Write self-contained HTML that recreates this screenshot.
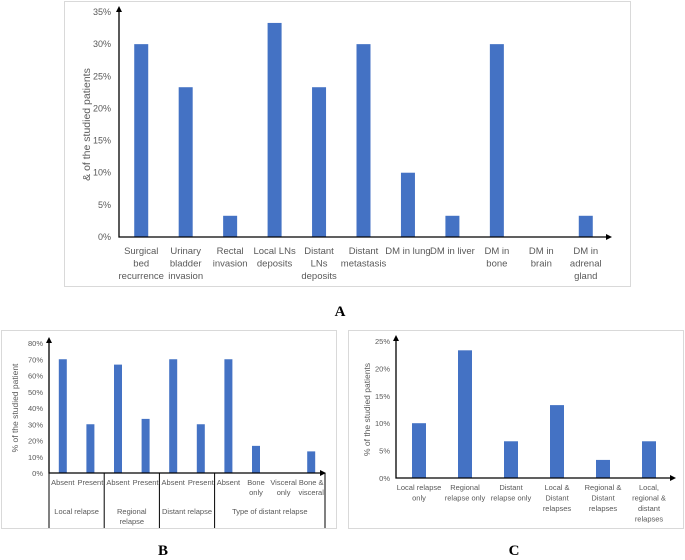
<!DOCTYPE html>
<html><head><meta charset="utf-8">
<style>
body{margin:0;background:#fff;width:685px;height:560px;overflow:hidden;font-family:"Liberation Sans",sans-serif;}
svg{position:absolute;left:0;top:0}
</style></head>
<body>
<svg id="s" width="685" height="560" xmlns="http://www.w3.org/2000/svg">
<rect x="64.5" y="1.5" width="566" height="285" fill="none" stroke="#d9d9d9"/>
<rect x="1.5" y="330.5" width="335" height="198" fill="none" stroke="#d9d9d9"/>
<rect x="348.5" y="330.5" width="335" height="198" fill="none" stroke="#d9d9d9"/>
<text x="340" y="316" text-anchor="middle" font-family="Liberation Serif" font-weight="bold" font-size="15">A</text>
<text x="163" y="555" text-anchor="middle" font-family="Liberation Serif" font-weight="bold" font-size="15">B</text>
<text x="514" y="555" text-anchor="middle" font-family="Liberation Serif" font-weight="bold" font-size="15">C</text>
</svg>
<script>
const aCats=[["Surgical","bed","recurrence"],["Urinary","bladder","invasion"],["Rectal","invasion"],["Local LNs","deposits"],["Distant","LNs","deposits"],["Distant","metastasis"],["DM in lung"],["DM in liver"],["DM in","bone"],["DM in","brain"],["DM in","adrenal","gland"]];
const aVals=[30,23.3,3.3,33.3,23.3,30,10,3.3,30,0,3.3];
const aTicks=[0,5,10,15,20,25,30,35];
const bCats=[["Absent"],["Present"],["Absent"],["Present"],["Absent"],["Present"],["Absent"],["Bone","only"],["Visceral","only"],["Bone &","visceral"]];
const bVals=[70,30,66.7,33.3,70,30,70,16.7,0,13.3];
const bTicks=[0,10,20,30,40,50,60,70,80];
const bGroups=[["Local relapse"],["Regional","relapse"],["Distant relapse"],["Type of distant relapse"]];
const bGroupSizes=[2,2,2,4];
const cCats=[["Local relapse","only"],["Regional","relapse only"],["Distant","relapse only"],["Local &","Distant","relapses"],["Regional &","Distant","relapses"],["Local,","regional &","distant","relapses"]];
const cVals=[10,23.3,6.7,13.3,3.3,6.7];
const cTicks=[0,5,10,15,20,25];
const S=document.getElementById('s');
const NS='http://www.w3.org/2000/svg';
function mk(tag,at,txt){const e=document.createElementNS(NS,tag);for(const k in at)e.setAttribute(k,at[k]);if(txt!=null)e.textContent=txt;S.appendChild(e);return e;}
function chart(o,cats,vals,ticks,p){
  const y=v=>o.y0-(v-ticks[0])/(ticks[ticks.length-1]-ticks[0])*(o.y0-o.yTop);
  const cw=(o.xEnd-o.x0)/cats.length;
  ticks.forEach(t=>{const e=mk('text',{x:o.x0-o.tg,y:y(t)+3,'text-anchor':'end','font-size':o.tfs,fill:'#595959'},t+'%');
    
    });
  vals.forEach((v,i)=>{const cx=o.x0+cw*(i+0.5);const r=mk('rect',{x:cx-o.bw/2,y:y(v),width:o.bw,height:o.y0-y(v),fill:'#4472c4'});
    
    });
  cats.forEach((c,i)=>{const cx=o.x0+cw*(i+0.5);c.forEach((l,j)=>{const e=mk('text',{x:cx,y:o.y0+o.ly+j*o.lh,'text-anchor':'middle','font-size':o.fs,fill:'#595959'},l);
    
    });});
  const ax=mk('path',{d:`M${o.x0} ${o.yTop-4}V${o.y0}H${o.xArrow}`,stroke:'#000',fill:'none','stroke-width':1.3});
  
  
  const a1=mk('path',{d:`M${o.x0-3} ${o.yTop}L${o.x0} ${o.yTop-6}L${o.x0+3} ${o.yTop}Z`,fill:'#000'});
  
  
  const a2=mk('path',{d:`M${o.xArrow} ${o.y0-3}L${o.xArrow+6} ${o.y0}L${o.xArrow} ${o.y0+3}Z`,fill:'#000'});
  
  
  if(o.title){const t=mk('text',{x:0,y:0,'text-anchor':'middle','font-size':o.fs+1,fill:'#595959',transform:`translate(${o.tx},${(o.y0+o.yTop)/2}) rotate(-90)`},o.title);
    
    }
  return {cw};
}
chart({x0:119,xEnd:608,xArrow:606,y0:237,yTop:12,bw:14,fs:9.5,tfs:9,tg:8,ly:17,lh:12.5,title:'& of the studied patients',tx:90},aCats,aVals,aTicks,'panel-a');
const rb=chart({x0:49,xEnd:325,xArrow:320,y0:473,yTop:343,bw:8,fs:7.5,tfs:7.5,tg:6,ly:12,lh:10,title:'% of the studied patient',tx:18},bCats,bVals,bTicks,'panel-b');
let cum=0;
bGroupSizes.forEach((n,g)=>{const xs=49+cum*rb.cw;
  const ln=mk('line',{x1:xs,y1:473,x2:xs,y2:528,stroke:'#000','stroke-width':1});
  
  
  bGroups[g].forEach((l,j)=>{const e=mk('text',{x:xs+n*rb.cw/2,y:514+j*10,'text-anchor':'middle','font-size':7.5,fill:'#595959'},l);
    
    });
  cum+=n;});
const le=mk('line',{x1:325,y1:473,x2:325,y2:528,stroke:'#000','stroke-width':1});


chart({x0:396,xEnd:672,xArrow:670,y0:478,yTop:341,bw:14,fs:7.5,tfs:7.5,tg:6,ly:12,lh:10.5,title:'% of the studied patients',tx:370},cCats,cVals,cTicks,'panel-c');
</script>
</body></html>
